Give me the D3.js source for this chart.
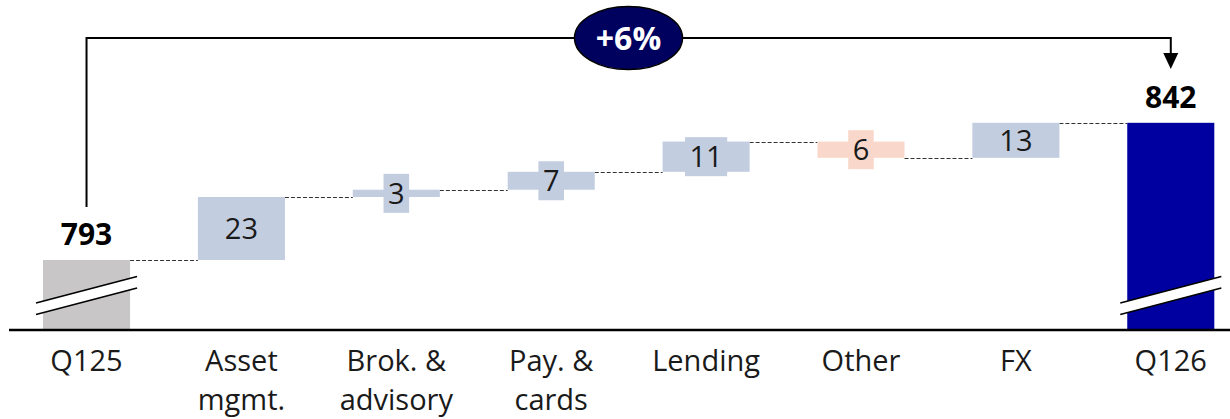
<!DOCTYPE html>
<html>
<head>
<meta charset="utf-8">
<script src="https://cdn.jsdelivr.net/npm/d3@7"></script>
<style>
  body { margin: 0; background: #fff; }
  text { font-family: "Open Sans", "Noto Sans", sans-serif; fill: #1a1a1a; }
</style>
</head>
<body>
<div id="chart"></div>
<script>

var width = 1230,
    height = 419

// data
var categories = ["Q125", "Asset\nmgmt.", "Brok. &\nadvisory", "Pay. &\ncards", "Lending", "Other", "FX", "Q126"]
var startValue = 793
var endValue = 842
var deltas = [22.5, 2.6, 6.4, 10.8, -5.8, 12.5]
var deltaLabels = ["23", "3", "7", "11", "6", "13"]
var growthLabel = "+6%"

var svg = d3.select("#chart")
  .append("svg")
    .attr("width", width)
    .attr("height", height)

var x = d3.scaleBand()
  .domain(categories)
  .range([43, 1214.3])
  .paddingInner(0.438)
  .paddingOuter(0)

var axisY = 330
var y = d3.scaleLinear()
  .domain([768, 843])
  .range([axisY, 120])

// build waterfall steps
var steps = []
var running = startValue
steps.push({ cat: categories[0], y0: null, y1: startValue, kind: "total" })
deltas.forEach(function(d, i) {
  steps.push({ cat: categories[i + 1], y0: running, y1: running + d, kind: d < 0 ? "neg" : "pos", label: deltaLabels[i] })
  running += d
})
steps.push({ cat: categories[categories.length - 1], y0: null, y1: endValue, kind: "end" })

var fills = { total: "#c8c6c7", pos: "#c3cde0", neg: "#f9d8cb", end: "#0000a0" }

// connectors
var connectors = svg.append("g")
for (var i = 0; i < steps.length - 1; i++) {
  var level = steps[i + 1].y0 != null ? steps[i + 1].y0 : steps[i].y1
  if (steps[i].kind == "neg") level = steps[i].y1
  connectors.append("line")
    .attr("x1", x(steps[i].cat) + x.bandwidth())
    .attr("x2", x(steps[i + 1].cat))
    .attr("y1", Math.round(y(level)) + 0.5)
    .attr("y2", Math.round(y(level)) + 0.5)
    .attr("stroke", "#333")
    .attr("stroke-width", 1)
    .attr("stroke-dasharray", "4,2")
}

// bars
svg.selectAll("rect.bar")
  .data(steps)
  .enter()
  .append("rect")
    .attr("class", "bar")
    .attr("x", function(d) { return x(d.cat) })
    .attr("width", x.bandwidth())
    .attr("y", function(d) { return d.y0 == null ? y(d.y1) : y(Math.max(d.y0, d.y1)) })
    .attr("height", function(d) {
      if (d.y0 == null) return axisY - y(d.y1)
      return Math.abs(y(d.y0) - y(d.y1))
    })
    .attr("fill", function(d) { return fills[d.kind] })

// axis break marks on the total bars
var breakG = svg.append("g")
steps.filter(function(d) { return d.y0 == null }).forEach(function(d) {
  var xl = x(d.cat) - 7,
      xr = x(d.cat) + x.bandwidth() + 7
  breakG.append("polygon")
    .attr("points", [[xl, 303], [xr, 276.5], [xr, 288], [xl, 314.5]].join(" "))
    .attr("fill", "#fff")
  breakG.append("line")
    .attr("x1", xl).attr("y1", 303).attr("x2", xr).attr("y2", 276.5)
    .attr("stroke", "#000").attr("stroke-width", 1.6)
  breakG.append("line")
    .attr("x1", xl).attr("y1", 314.5).attr("x2", xr).attr("y2", 288)
    .attr("stroke", "#000").attr("stroke-width", 1.6)
})

// delta labels with background boxes
var labels = svg.selectAll("g.lbl")
  .data(steps.filter(function(d) { return d.y0 != null }))
  .enter()
  .append("g")
    .attr("class", "lbl")
    .attr("transform", function(d) {
      return "translate(" + (x(d.cat) + x.bandwidth() / 2) + "," + ((y(d.y0) + y(d.y1)) / 2) + ")"
    })

labels.append("text")
  .attr("text-anchor", "middle")
  .attr("dy", "0.36em")
  .style("font-size", "29px")
  .text(function(d) { return d.label })

labels.each(function(d) {
  var g = d3.select(this)
  var h = Math.abs(y(d.y0) - y(d.y1))
  if (h > 34) return
  var w = g.select("text").node().getComputedTextLength() + 9
  g.insert("rect", "text")
    .attr("x", -w / 2)
    .attr("y", -19.5)
    .attr("width", w)
    .attr("height", 39)
    .attr("fill", fills[d.kind])
})

// total labels
svg.selectAll("text.total")
  .data(steps.filter(function(d) { return d.y0 == null }))
  .enter()
  .append("text")
    .attr("class", "total")
    .attr("x", function(d) { return x(d.cat) + x.bandwidth() / 2 })
    .attr("y", function(d) { return y(d.y1) - 15 })
    .attr("text-anchor", "middle")
    .style("font-size", "30px")
    .style("font-weight", "bold")
    .style("fill", "#000")
    .text(function(d) { return d3.format("d")(d.y1) })

// category axis
var axis = svg.append("g")
  .attr("transform", "translate(0," + axisY + ")")
  .call(d3.axisBottom(x).tickSize(0).tickPadding(0))

axis.select(".domain").remove()
axis.selectAll(".tick text").each(function(d) {
  var t = d3.select(this)
  t.text(null)
    .attr("y", 0)
    .attr("dy", null)
    .style("font-size", "29px")
    .style("font-family", "'Open Sans', 'Noto Sans', sans-serif")
    .attr("fill", "#1a1a1a")
  d.split("\n").forEach(function(line, i) {
    t.append("tspan")
      .attr("x", 0)
      .attr("y", 41 + i * 39)
      .text(line)
  })
})

svg.append("line")
  .attr("x1", 9)
  .attr("x2", width)
  .attr("y1", axisY)
  .attr("y2", axisY)
  .attr("stroke", "#000")
  .attr("stroke-width", 2.6)

// growth bracket
var xa = x(categories[0]) + x.bandwidth() / 2,
    xb = x(categories[categories.length - 1]) + x.bandwidth() / 2,
    topY = 38

svg.append("path")
  .attr("d", "M" + xa + "," + 207 + "V" + topY + "H" + xb + "V" + 54)
  .attr("fill", "none")
  .attr("stroke", "#000")
  .attr("stroke-width", 2)

svg.append("path")
  .attr("d", "M" + (xb - 7.5) + ",53L" + (xb + 7.5) + ",53L" + xb + ",69Z")
  .attr("fill", "#000")

var cx = 628.5
svg.append("ellipse")
  .attr("cx", cx)
  .attr("cy", topY)
  .attr("rx", 54)
  .attr("ry", 31.5)
  .attr("fill", "#00005f")
  .attr("stroke", "#000")
  .attr("stroke-width", 1.5)

svg.append("text")
  .attr("x", cx)
  .attr("y", topY)
  .attr("dy", "0.36em")
  .attr("text-anchor", "middle")
  .style("font-size", "32px")
  .style("font-weight", "bold")
  .style("fill", "#fff")
  .text(growthLabel)

</script>
</body>
</html>
